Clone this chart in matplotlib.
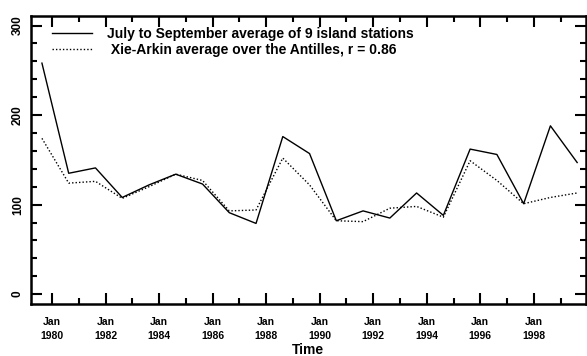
import numpy as np
import matplotlib
matplotlib.use("Agg")
import matplotlib.pyplot as plt
from matplotlib.ticker import MultipleLocator

plt.rcParams['font.family'] = ['Liberation Sans', 'DejaVu Sans']
plt.rcParams['font.weight'] = 'bold'

# July-September rainfall, one value per year (plotted at mid-season)
years = np.arange(1979, 2000)
stations = [258, 135, 141, 108, 122, 134, 123, 91, 79, 176, 157,
            82, 93, 85, 113, 88, 162, 156, 101, 188, 147]
xie_arkin = [174, 124, 126, 107, 120, 134, 127, 93, 94, 152, 122,
             82, 81, 96, 98, 86, 149, 127, 101, 108, 113]
tick_years = np.arange(1980, 2000, 2)
tick_labels = ['Jan\n%d' % y for y in tick_years]

t = years + 0.62

fig = plt.figure(figsize=(5.87, 3.56), dpi=100)
ax = fig.add_axes([0.0523, 0.146, 0.946, 0.81])

ax.plot(t, stations, color='k', linewidth=1.0,
        label='July to September average of 9 island stations')
ax.plot(t, xie_arkin, color='k', linewidth=1.0, linestyle=(0, (1, 1.5)),
        label=' Xie-Arkin average over the Antilles, r = 0.86')

ax.set_xlim(1979.2, 1999.95)
ax.set_ylim(-11, 311)

ax.set_xticks(tick_years)
ax.set_xticklabels(tick_labels, fontsize=7.5, fontweight='bold', linespacing=1.5)
ax.xaxis.set_minor_locator(MultipleLocator(1))
ax.set_yticks([0, 100, 200, 300])
ax.yaxis.set_minor_locator(MultipleLocator(20))
for lab in ax.get_yticklabels():
    lab.set_rotation(90)
    lab.set_verticalalignment('center')
    lab.set_fontsize(8.5)
    lab.set_fontweight('bold')

ax.tick_params(which='both', direction='in', top=True, right=True, width=1.5)
ax.tick_params(which='major', length=8, pad=9)
ax.tick_params(which='minor', length=4)
ax.tick_params(axis='y', pad=5)

for s in ax.spines.values():
    s.set_linewidth(1.8)

ax.set_xlabel('Time', fontsize=10, fontweight='bold', labelpad=2)

ax.legend(loc='upper left', bbox_to_anchor=(0.038, 0.96), frameon=False,
          handlelength=2.9, handletextpad=1.08,
          labelspacing=0.1, borderpad=0, borderaxespad=0,
          prop={'weight': 'bold', 'size': 10})

fig.savefig('out.png', dpi=100)
